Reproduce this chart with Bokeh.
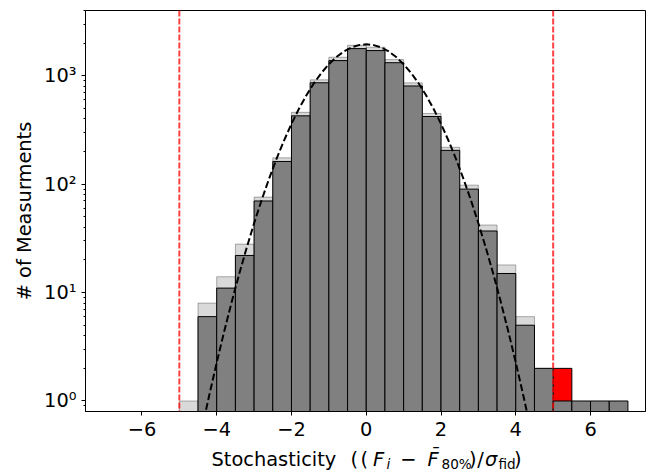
from bokeh.plotting import figure
from bokeh.layouts import column
from bokeh.models import Range1d, Span, Label, FixedTicker
from bokeh.embed import file_html
from bokeh.resources import INLINE

# ---- data ----
bin_width = 0.5
# light (all measurements) histogram: bin centres and counts
light_x = [-4.75, -4.25, -3.75, -3.25, -2.75, -2.25, -1.75, -1.25, -0.75, -0.25,
           0.25, 0.75, 1.25, 1.75, 2.25, 2.75, 3.25, 3.75, 4.25, 4.75]
light_counts = [1, 8, 14, 28, 76, 175, 460, 917, 1482, 1910,
                1832, 1410, 860, 449, 219, 98, 42, 18, 6, 2]
# dark (selected) histogram
dark_x = [-4.25, -3.75, -3.25, -2.75, -2.25, -1.75, -1.25, -0.75, -0.25,
          0.25, 0.75, 1.25, 1.75, 2.25, 2.75, 3.25, 3.75, 4.25, 4.75,
          5.25, 5.75, 6.25, 6.75]
dark_counts = [6, 11, 22, 70, 162, 427, 862, 1380, 1780,
               1707, 1320, 805, 421, 205, 90, 37, 15, 5, 2,
               1, 1, 1, 1]
# outlier (red) bin
red_x = [5.25]
red_counts = [2]
# dashed model curve
curve_x = [-4.4, -4.2, -4.0, -3.8, -3.6, -3.4, -3.2, -3.0, -2.8, -2.6, -2.4, -2.2,
           -2.0, -1.8, -1.6, -1.4, -1.2, -1.0, -0.8, -0.6, -0.4, -0.2, 0.0,
           0.2, 0.4, 0.6, 0.8, 1.0, 1.2, 1.4, 1.6, 1.8, 2.0, 2.2, 2.4, 2.6,
           2.8, 3.0, 3.2, 3.4, 3.6, 3.8, 4.0, 4.2, 4.4]
curve_y = [0.548, 1.13, 2.26, 4.38, 8.18, 14.8, 25.8, 43.6, 71.1, 112.2, 171.1, 252.5,
           360, 496, 661, 852, 1061, 1278, 1488, 1675, 1823, 1917, 1950,
           1917, 1823, 1675, 1488, 1278, 1061, 852, 661, 496, 360, 252.5, 171.1, 112.2,
           71.1, 43.6, 25.8, 14.8, 8.18, 4.38, 2.26, 1.13, 0.548]
cut_lines = [-5, 5]
x_ticks = [-6, -4, -2, 0, 2, 4, 6]
x_tick_labels = ["\u22126", "\u22124", "\u22122", "0", "2", "4", "6"]
y_ticks = [1, 10, 100, 1000]
y_tick_labels = ["10\u2070", "10\u00b9", "10\u00b2", "10\u00b3"]
y_label = "# of Measurments"

FONT = "DejaVu Sans"
MAIN_PX = 19.4
SUB_PX = 13.6
MAIN = f"{MAIN_PX}px"

H1 = 446
p = figure(width=649, height=H1, y_axis_type="log",
           x_range=Range1d(-7.51, 7.47), y_range=Range1d(0.8, 4000),
           output_backend="svg", toolbar_location=None)
p.min_border_left = 85
p.min_border_right = 4
p.min_border_top = 10
p.min_border_bottom = H1 - 411
p.xgrid.visible = False
p.ygrid.visible = False
p.outline_line_color = "black"
p.outline_line_width = 1
p.background_fill_color = "white"
p.border_fill_color = "white"

floor = [0.1] * 30
p.vbar(x=light_x, width=bin_width, top=light_counts, bottom=floor[:len(light_x)],
       fill_color="gray", fill_alpha=0.3, line_color="black", line_alpha=0.3, line_width=1)
p.vbar(x=red_x, width=bin_width, top=red_counts, bottom=floor[:len(red_x)],
       fill_color="red", line_color="black", line_width=1)
p.vbar(x=dark_x, width=bin_width, top=dark_counts, bottom=floor[:len(dark_x)],
       fill_color="#808080", line_color="black", line_width=1)
p.line(curve_x, curve_y, line_color="black", line_width=2, line_dash="7 3")
for loc in cut_lines:
    p.add_layout(Span(location=loc, dimension="height", line_color="red",
                      line_alpha=0.75, line_width=2, line_dash="6 2"))

# axes
p.xaxis.ticker = FixedTicker(ticks=x_ticks, minor_ticks=[])
p.xaxis.major_label_overrides = {t: l for t, l in zip(x_ticks, x_tick_labels)}
minor = [0.9] + [m * d for d in (1, 10, 100) for m in range(2, 10)] + [2000, 3000, 4000]
p.yaxis.ticker = FixedTicker(ticks=y_ticks, minor_ticks=minor)
p.yaxis.major_label_overrides = {t: l for t, l in zip(y_ticks, y_tick_labels)}
for ax in (p.xaxis[0], p.yaxis[0]):
    ax.axis_line_color = "black"
    ax.major_tick_line_color = "black"
    ax.minor_tick_line_color = "black"
    ax.major_tick_out = 4
    ax.major_tick_in = 0
    ax.minor_tick_out = 2
    ax.minor_tick_in = 0
    ax.major_label_text_font = FONT
    ax.major_label_text_font_size = MAIN
    ax.major_label_text_color = "black"
    ax.axis_label_text_font = FONT
    ax.axis_label_text_font_size = MAIN
    ax.axis_label_text_font_style = "normal"
    ax.axis_label_text_color = "black"
p.xaxis.major_label_standoff = 6
p.yaxis.major_label_standoff = 5
p.yaxis.axis_label = y_label
p.yaxis.axis_label_standoff = 5

# x axis label (mathtext style) in a strip below the plot;
# its frame is aligned with the main frame (page x 85..645)
H2 = 472 - H1
p2 = figure(width=649, height=H2, x_range=Range1d(85, 645), y_range=Range1d(0, H2),
            output_backend="svg", toolbar_location=None,
            min_border=0, min_border_left=0, min_border_right=0,
            min_border_top=0, min_border_bottom=0)
p2.axis.visible = False
p2.grid.visible = False
p2.outline_line_color = None
p2.background_fill_color = "white"
p2.border_fill_color = "white"

base = H2 - 18.8
pieces = [
    ("Stochasticity", 211.0, MAIN_PX, "normal", 0),
    ("(", 350.0, MAIN_PX, "normal", 0),
    ("(", 360.0, MAIN_PX, "normal", 0),
    ("F", 372.5, MAIN_PX, "italic", 0),
    ("i", 386.0, SUB_PX, "italic", 1),
    ("\u2212", 399.7, MAIN_PX, "normal", 0),
    ("F\u0304", 427.0, MAIN_PX, "italic", 0),
    ("80%", 441.0, SUB_PX, "normal", 1),
    (")", 468.5, MAIN_PX, "normal", 0),
    ("/", 476.7, MAIN_PX, "normal", 0),
    ("\u03c3", 484.5, MAIN_PX, "italic", 0),
    ("fid", 498.0, SUB_PX, "normal", 1),
    (")", 513.5, MAIN_PX, "normal", 0),
]
for txt, px, size, style, sub in pieces:
    y = base - 2.6 * sub + 0.3 * size
    p2.add_layout(Label(x=px, y=y, text=txt, text_font=FONT,
                        text_font_size=f"{size}px", text_font_style=style,
                        text_color="black",
                        text_baseline="alphabetic", text_align="left"))

layout = column(p, p2, spacing=0)
open("out.html", "w").write(file_html(layout, INLINE))
